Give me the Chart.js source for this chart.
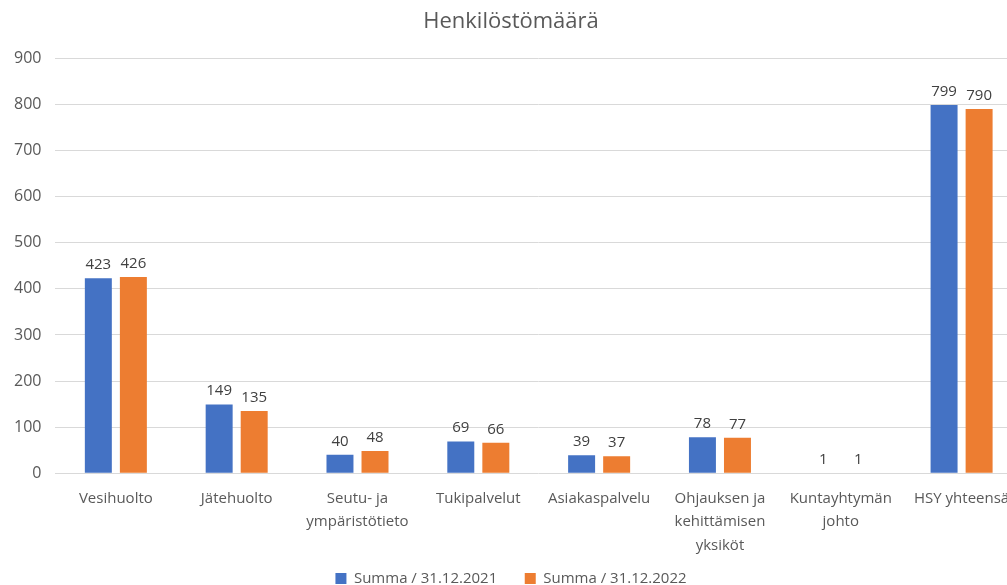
<!DOCTYPE html>
<html>
<head>
<meta charset="utf-8">
<script src="https://cdn.jsdelivr.net/npm/chart.js@4"></script>
<style>
  html, body { margin: 0; padding: 0; background: #fff; overflow: hidden; }
  #wrap { width: 1022px; height: 596px; }
</style>
</head>
<body>
<div id="wrap"><canvas id="myChart"></canvas></div>
<script>
const categories = [
    "Vesihuolto",
    "Jätehuolto",
    ["Seutu- ja", "ympäristötieto"],
    "Tukipalvelut",
    "Asiakaspalvelu",
    ["Ohjauksen ja", "kehittämisen", "yksiköt"],
    ["Kuntayhtymän", "johto"],
    "HSY yhteensä"
];
const summa2021 = [423, 149, 40, 69, 39, 78, 1, 799];
const summa2022 = [426, 135, 48, 66, 37, 77, 1, 790];
const seriesNames = ["Summa / 31.12.2021", "Summa / 31.12.2022"];

const FONT = "'Open Sans', sans-serif";

// numbers above each bar
const barLabels = {
    id: 'barLabels',
    afterDatasetsDraw(chart){
        const ctx = chart.ctx;
        ctx.save();
        ctx.font = "15px " + FONT;
        ctx.fillStyle = "#404040";
        ctx.textAlign = "center";
        ctx.textBaseline = "bottom";
        chart.data.datasets.forEach(function(ds, i){
            const meta = chart.getDatasetMeta(i);
            meta.data.forEach(function(bar, j){
                ctx.fillText(ds.data[j], bar.x, bar.y - 6);
            });
        });
        ctx.restore();
    }
};

const ctx = document.getElementById('myChart');
new Chart(ctx, {
    type: 'bar',
    data: {
        labels: categories,
        datasets: [{
            label: seriesNames[0],
            data: summa2021,
            backgroundColor: "#4472C4"
        }, {
            label: seriesNames[1],
            data: summa2022,
            backgroundColor: "#ED7D31"
        }]
    },
    options: {
        responsive: true,
        maintainAspectRatio: false,
        animation: false,
        categoryPercentage: 0.58,
        barPercentage: 0.77,
        layout: {
            padding: { left: 0, right: 0, top: 9, bottom: 0 }
        },
        plugins: {
            title: {
                display: true,
                text: "Henkilöstömäärä",
                color: "#595959",
                font: { family: FONT, size: 22, weight: 'normal' },
                padding: { top: 0, bottom: 23 }
            },
            legend: {
                position: 'bottom',
                labels: {
                    color: "#595959",
                    font: { family: FONT, size: 15 },
                    boxWidth: 11,
                    boxHeight: 11,
                    padding: 8,
                    // wider gap between the two entries
                    generateLabels(chart){
                        const items = Chart.defaults.plugins.legend.labels.generateLabels(chart);
                        items.forEach(function(it, i){
                            if(i < items.length - 1) it.text = it.text + "     ";
                        });
                        return items;
                    }
                }
            },
            tooltip: { enabled: false }
        },
        scales: {
            x: {
                grid: { display: false },
                border: { display: false },
                ticks: {
                    color: "#595959",
                    font: { family: FONT, size: 15, lineHeight: 1.55 },
                    maxRotation: 0,
                    autoSkip: false,
                    padding: 6
                }
            },
            y: {
                min: 0,
                max: 900,
                ticks: {
                    stepSize: 100,
                    color: "#595959",
                    font: { family: FONT, size: 16 },
                    padding: 14
                },
                grid: { color: "#d9d9d9", drawTicks: false },
                border: { display: false }
            }
        }
    },
    plugins: [barLabels]
});
</script>
</body>
</html>
